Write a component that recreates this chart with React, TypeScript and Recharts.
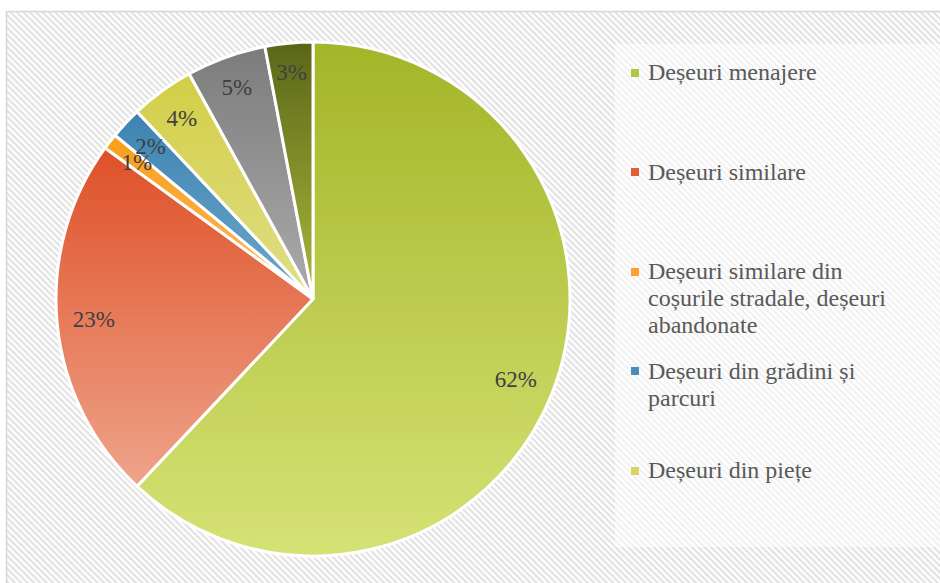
import React from 'react';
import { PieChart, Pie, Cell, Legend } from 'recharts';

// categorii și procente
const categories = [
  'Deșeuri menajere',
  'Deșeuri similare',
  'Deșeuri similare din coșurile stradale, deșeuri abandonate',
  'Deșeuri din grădini și parcuri',
  'Deșeuri din piețe',
  'Deșeuri din construcții și demolări',
  'Nămoluri de la epurarea apelor uzate',
];
const values = [62, 23, 1, 2, 4, 5, 3];

// culori pentru gradient (sus -> jos)
const topColors = ['#a3b528', '#de5027', '#f99f19', '#3d83b2', '#d3ce45', '#7c7c7c', '#5a6618'];
const bottomColors = ['#d5e275', '#efa48b', '#fcb75e', '#6ea8ca', '#e0de88', '#ababab', '#aab93b'];
const legendColors = ['#b5c63c', '#e0603a', '#fba22c', '#4a8dba', '#d8d460', '#8c8c8c', '#6f7d22'];

const LABEL_SIZE = 23;
const RADIAN = Math.PI / 180;

const chartData = categories.map((name, i) => ({ name, value: values[i] }));

// eticheta in interior, lipită de marginea exterioară (ca "inside end")
const renderLabel = (props: any) => {
  const { cx, cy, midAngle, outerRadius, percent } = props;
  const text = `${Math.round(percent * 100)}%`;
  const dx = Math.cos(-midAngle * RADIAN);
  const dy = Math.sin(-midAngle * RADIAN);
  const w = text.length * 0.55 * LABEL_SIZE;
  const h = LABEL_SIZE;
  const r = outerRadius - (Math.abs(dx) * w) / 2 - (Math.abs(dy) * h) / 2 - 17;
  return (
    <text
      x={cx + r * dx}
      y={cy + r * dy}
      fill="#404040"
      textAnchor="middle"
      dominantBaseline="central"
      fontSize={LABEL_SIZE}
      fontFamily="'Liberation Serif', serif"
    >
      {text}
    </text>
  );
};

// legenda din original e trunchiată: doar primele 5 intrări se văd
const renderLegend = (props: any) => {
  const { payload } = props;
  return (
    <div>
      {(payload || []).slice(0, 5).map((entry: any, i: number) => (
        <div key={i} style={{ display: 'flex', alignItems: 'flex-start', height: 99.5 }}>
          <span
            style={{
              width: 8,
              height: 8,
              marginTop: 9.5,
              background: legendColors[categories.indexOf(entry.value)],
              flex: 'none',
            }}
          />
          <span
            style={{
              marginLeft: 9,
              width: 268,
              fontFamily: "'Liberation Serif', serif",
              fontSize: 24,
              lineHeight: '27px',
              color: '#595959',
            }}
          >
            {entry.value}
          </span>
        </div>
      ))}
    </div>
  );
};

export default function App() {
  return (
    <div style={{ position: 'absolute', left: 0, top: 0, width: 940, height: 583, background: '#fff' }}>
      <svg width={940} height={583} style={{ position: 'absolute', left: 0, top: 0 }}>
        <defs>
          <pattern id="hatch" patternUnits="userSpaceOnUse" width={4.5} height={4.5} patternTransform="rotate(45)">
            <rect width={4.5} height={4.5} fill="#ffffff" />
            <rect width={4.5} height={2.2} fill="#e2e2e2" />
          </pattern>
          {topColors.map((c, i) => (
            <linearGradient key={i} id={`grad${i}`} x1="0" y1="0" x2="0" y2="1">
              <stop offset="0%" stopColor={c} />
              <stop offset="100%" stopColor={bottomColors[i]} />
            </linearGradient>
          ))}
        </defs>
        <rect x={6.5} y={11.5} width={940} height={580} fill="url(#hatch)" stroke="#d6d6d6" strokeWidth={1.5} />
        <rect x={615} y={44} width={330} height={503} fill="#ffffff" fillOpacity={0.5} />
      </svg>
      <div style={{ position: 'absolute', left: 0, top: 0 }}>
        <PieChart width={940} height={583} margin={{ top: 0, right: 0, bottom: 0, left: 0 }}>
          <Pie
            data={chartData}
            dataKey="value"
            nameKey="name"
            cx={313}
            cy={299}
            outerRadius={257}
            startAngle={90}
            endAngle={-270}
            stroke="#ffffff"
            strokeWidth={3}
            label={renderLabel}
            labelLine={false}
            isAnimationActive={false}
          >
            {chartData.map((_, i) => (
              <Cell key={i} fill={`url(#grad${i})`} />
            ))}
          </Pie>
          <Legend
            layout="vertical"
            verticalAlign="top"
            align="right"
            itemSorter={null}
            content={renderLegend}
            wrapperStyle={{ left: 631, right: 'auto', top: 59, width: 300 }}
          />
        </PieChart>
      </div>
    </div>
  );
}
